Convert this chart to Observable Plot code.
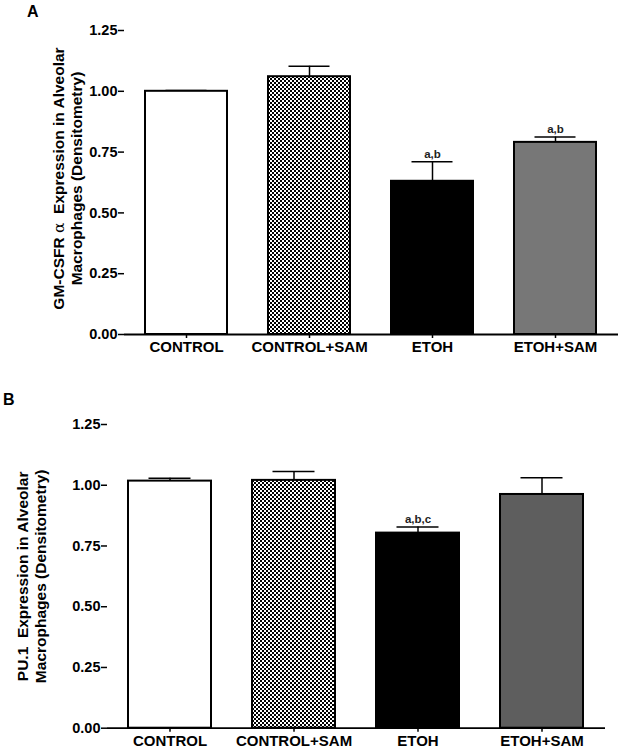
<!DOCTYPE html>
<html>
<head>
<meta charset="utf-8">
<script src="https://cdn.jsdelivr.net/npm/d3@7"></script>
<script src="https://cdn.jsdelivr.net/npm/@observablehq/plot@0.6"></script>
<style>
  body { margin: 0; background: #fff; }
  #wrap { position: relative; width: 624px; height: 751px; font-family: "Liberation Sans", Arial, sans-serif; }
  .panel { position: absolute; left: 0; }
  .plabel { position: absolute; font-weight: bold; font-size: 16px; z-index: 2; }
</style>
</head>
<body>
<div id="wrap">
  <div id="pa" class="panel" style="top:0px;"></div>
  <div id="pb" class="panel" style="top:380px;"></div>
  <div class="plabel" style="left:27px;top:3px;">A</div>
  <div class="plabel" style="left:3px;top:391px;">B</div>
</div>
<script>
const groups = ["CONTROL", "CONTROL+SAM", "ETOH", "ETOH+SAM"];
const yTicks = [0, 0.25, 0.5, 0.75, 1.0, 1.25];

// Panel A: GM-CSFR alpha
const gmMean = [1.00, 1.06, 0.63, 0.79];
const gmSem  = [0.003, 0.043, 0.08, 0.022];
const gmSig  = ["", "", "a,b", "a,b"];

// Panel B: PU.1
const puMean = [1.017, 1.020, 0.803, 0.962];
const puSem  = [0.012, 0.037, 0.025, 0.069];
const puSig  = ["", "", "a,b,c", ""];

const titleA = "GM-CSFR \u03B1  Expression in Alveolar\nMacrophages (Densitometry)";
const titleB = "PU.1  Expression in Alveolar\nMacrophages (Densitometry)";

const ns = "http://www.w3.org/2000/svg";

function addPattern(svg, id) {
  const defs = document.createElementNS(ns, "defs");
  const p = document.createElementNS(ns, "pattern");
  p.setAttribute("id", id);
  p.setAttribute("patternUnits", "userSpaceOnUse");
  p.setAttribute("width", 4); p.setAttribute("height", 4);
  const bg = document.createElementNS(ns, "rect");
  bg.setAttribute("width", 4); bg.setAttribute("height", 4); bg.setAttribute("fill", "#fff");
  p.appendChild(bg);
  for (const [x, y] of [[0, 0], [2, 2]]) {
    const r = document.createElementNS(ns, "rect");
    r.setAttribute("x", x); r.setAttribute("y", y);
    r.setAttribute("width", 2); r.setAttribute("height", 2); r.setAttribute("fill", "#000");
    p.appendChild(r);
  }
  defs.appendChild(p);
  svg.insertBefore(defs, svg.firstChild);
}

// render the Greek alpha in a light serif face, as in the original figure
function styleAlpha(svg) {
  svg.querySelectorAll("tspan, text").forEach(el => {
    for (const node of Array.from(el.childNodes)) {
      if (node.nodeType === 3 && node.nodeValue.includes("\u03B1")) {
        const [a, b] = node.nodeValue.split("\u03B1");
        const t = document.createElementNS(ns, "tspan");
        t.setAttribute("font-family", "'DejaVu Serif', serif");
        t.setAttribute("font-weight", "normal");
        t.textContent = "\u03B1";
        el.insertBefore(document.createTextNode(a), node);
        el.insertBefore(t, node);
        el.insertBefore(document.createTextNode(b), node);
        el.removeChild(node);
      }
    }
  });
}

function panel({means, sems, sigs, fills, title, patternId, height, mTop, mBottom, mLeft, mRight, titleDx, titleDy}) {
  const data = groups.map((g, i) => ({group: g, mean: means[i], sem: sems[i], top: means[i] + sems[i], sig: sigs[i]}));
  const svg = Plot.plot({
    width: 624,
    height,
    marginTop: mTop,
    marginBottom: mBottom,
    marginLeft: mLeft,
    marginRight: mRight,
    style: {fontFamily: "'Liberation Sans', Arial, sans-serif", background: "transparent", overflow: "visible"},
    x: {domain: groups, paddingInner: 0.33, paddingOuter: 0.165, label: null},
    y: {domain: [0, 1.25], label: null},
    color: {type: "ordinal", domain: groups, range: fills},
    marks: [
      Plot.ruleX(data, {x: "group", y1: "mean", y2: "top", stroke: "#000", strokeWidth: 1.5}),
      Plot.tickY(data, {x: "group", y: "top", stroke: "#000", strokeWidth: 1.5, insetLeft: 20.5, insetRight: 20.5}),
      Plot.barY(data, {x: "group", y: "mean", fill: "group", stroke: "#000", strokeWidth: 2}),
      Plot.text(data, {x: "group", y: "top", text: "sig", dy: -8, fontSize: 11.5, fontWeight: "bold", fill: "#222"}),
      Plot.axisY({ticks: yTicks, tickFormat: d3.format(".2f"), tickSize: 6, tickPadding: 1, fontSize: 14.5, fontWeight: "bold", strokeWidth: 1.5, label: null}),
      Plot.axisX({tickSize: 4, tickPadding: 3, fontSize: 15, fontWeight: "bold", strokeWidth: 1.5, label: null}),
      Plot.ruleX([0], {frameAnchor: "left", stroke: "#000", strokeWidth: 1.8}),
      Plot.ruleY([0], {stroke: "#000", strokeWidth: 1.8}),
      Plot.text([title], {frameAnchor: "left", textAnchor: "middle", lineAnchor: "middle", rotate: -90, dx: titleDx, dy: titleDy, lineHeight: 1.12, fontSize: 15.5, fontWeight: "bold", fill: "#000"})
    ]
  });
  addPattern(svg, patternId);
  styleAlpha(svg);
  return svg;
}

document.getElementById("pa").appendChild(panel({
  means: gmMean, sems: gmSem, sigs: gmSig,
  fills: ["#ffffff", "url(#checkA)", "#000000", "#777777"],
  title: titleA, patternId: "checkA",
  height: 370, mTop: 30, mBottom: 36, mLeft: 124, mRight: 6, titleDx: -57, titleDy: -4
}));

document.getElementById("pb").appendChild(panel({
  means: puMean, sems: puSem, sigs: puSig,
  fills: ["#ffffff", "url(#checkB)", "#000000", "#5e5e5e"],
  title: titleB, patternId: "checkB",
  height: 371, mTop: 44, mBottom: 23.3, mLeft: 107, mRight: 19, titleDx: -76, titleDy: 0
}));
</script>
</body>
</html>
